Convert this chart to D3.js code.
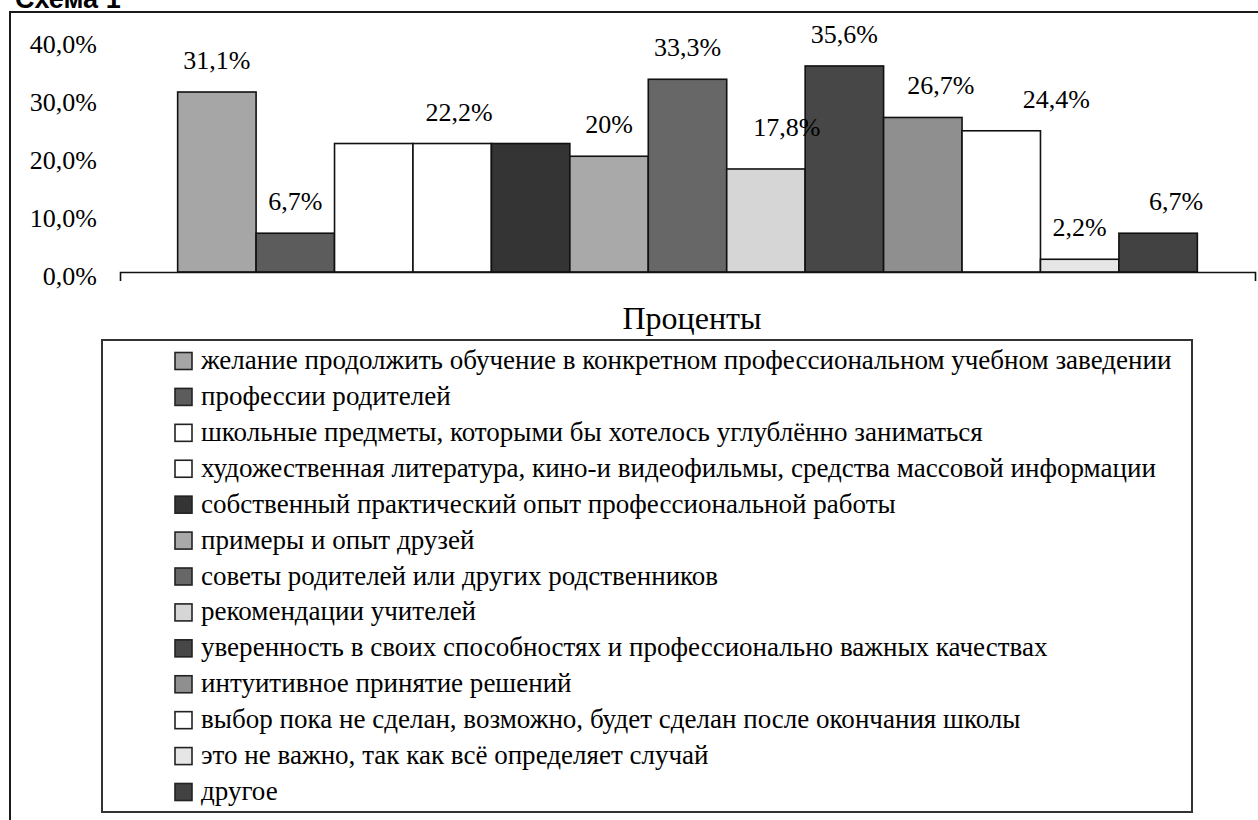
<!DOCTYPE html>
<html>
<head>
<meta charset="utf-8">
<script src="https://d3js.org/d3.v7.min.js"></script>
</head>
<body style="margin:0">
<div id="chart"></div>
<script>
// chart values
const categories = [
    "желание продолжить обучение в конкретном профессиональном учебном заведении",
    "профессии родителей",
    "школьные предметы, которыми бы хотелось углублённо заниматься",
    "художественная литература, кино-и видеофильмы, средства массовой информации",
    "собственный практический опыт профессиональной работы",
    "примеры и опыт друзей",
    "советы родителей или других родственников",
    "рекомендации учителей",
    "уверенность в своих способностях и профессионально важных качествах",
    "интуитивное принятие решений",
    "выбор пока не сделан, возможно, будет сделан после окончания школы",
    "это не важно, так как всё определяет случай",
    "другое"
];
const values = [31.1, 6.7, 22.2, 22.2, 22.2, 20, 33.3, 17.8, 35.6, 26.7, 24.4, 2.2, 6.7];
// only these labels are printed in the original (null = no label)
const valueLabels = ["31,1%", "6,7%", null, "22,2%", null, "20%", "33,3%", "17,8%", "35,6%", "26,7%", "24,4%", "2,2%", "6,7%"];
const yTicks = [0, 10, 20, 30, 40];
const yTickLabels = ["0,0%", "10,0%", "20,0%", "30,0%", "40,0%"];
const axisTitle = "Проценты";
const figureTitle = "Схема 1";

// look of the bars (greyscale print)
const fills = ["#a6a6a6", "#5c5c5c", "#ffffff", "#ffffff", "#343434", "#a9a9a9", "#676767",
               "#d6d6d6", "#474747", "#8f8f8f", "#ffffff", "#e6e6e6", "#424242"];
// small hand nudges of the value labels, as placed in the original
const labelNudgeX = [0, 0, 0, 7, 0, 0, 0, 21, 0, 18, 55, 0, 18];
const labelNudgeY = [0, 0, 0, 0, 0, 0, 0, -10, 0, 0, 0, 0, 0];

const SERIF = "'Times New Roman'";

let svg = d3.select("#chart").append("svg")
    .attr("width", 1258)
    .attr("height", 820);

let x = d3.scaleBand()
    .domain(d3.range(values.length))
    .range([120, 1255])
    .paddingInner(0)
    .paddingOuter(0.735);

let y = d3.scaleLinear()
    .domain([0, 40])
    .range([272, 40.5]);

let displayData = values.map((v, i) => ({i: i, value: v, label: valueLabels[i]}));

// outer frame of the figure
svg.append("path")
    .attr("d", "M10,820V12H1258")
    .attr("fill", "none")
    .attr("stroke", "#1a1a1a")
    .attr("stroke-width", 2);

// bars
svg.selectAll(".bar")
    .data(displayData)
    .enter().append("rect")
    .attr("class", "bar")
    .attr("x", d => x(d.i))
    .attr("y", d => y(d.value))
    .attr("width", x.bandwidth())
    .attr("height", d => y(0) - y(d.value))
    .attr("fill", d => fills[d.i])
    .attr("stroke", "#111")
    .attr("stroke-width", 1.6);

// baseline with the small outer ticks at both ends
svg.append("g")
    .attr("transform", "translate(0," + y(0) + ")")
    .call(d3.axisBottom(x).tickValues([]).tickSizeOuter(9))
    .select(".domain")
    .attr("stroke", "#111")
    .attr("stroke-width", 1.6);

// y tick labels, drawn from the scale (no axis line in the original)
svg.selectAll(".y-label")
    .data(yTicks)
    .enter().append("text")
    .attr("class", "y-label")
    .attr("x", 97)
    .attr("y", d => y(d) + 12.5)
    .attr("text-anchor", "end")
    .style("font-family", SERIF)
    .style("font-size", "26px")
    .text((d, i) => yTickLabels[i]);

svg.selectAll(".value-label")
    .data(displayData.filter(d => d.label !== null))
    .enter().append("text")
    .attr("class", "value-label")
    .attr("x", d => x(d.i) + x.bandwidth() / 2 + labelNudgeX[d.i])
    .attr("y", d => y(d.value) - 23 + labelNudgeY[d.i])
    .attr("text-anchor", "middle")
    .style("font-family", SERIF)
    .style("font-size", "26px")
    .text(d => d.label);

svg.append("text")
    .attr("x", 692)
    .attr("y", 329)
    .attr("text-anchor", "middle")
    .style("font-family", SERIF)
    .style("font-size", "32px")
    .text(axisTitle);

// legend
svg.append("rect")
    .attr("x", 102)
    .attr("y", 340)
    .attr("width", 1090)
    .attr("height", 472)
    .attr("fill", "none")
    .attr("stroke", "#333")
    .attr("stroke-width", 2);

let rowY = d3.scalePoint()
    .domain(d3.range(categories.length))
    .range([361, 792]);

svg.selectAll(".legend-swatch")
    .data(categories)
    .enter().append("rect")
    .attr("class", "legend-swatch")
    .attr("x", 175)
    .attr("y", (d, i) => rowY(i) - 8.5)
    .attr("width", 17)
    .attr("height", 17)
    .attr("fill", (d, i) => fills[i])
    .attr("stroke", "#222")
    .attr("stroke-width", 1.6);

let legendText = svg.selectAll(".legend-text")
    .data(categories)
    .enter().append("text")
    .attr("class", "legend-text")
    .attr("x", 201)
    .attr("y", (d, i) => rowY(i) + 8)
    .style("font-family", SERIF)
    .style("font-size", "26px")
    .text(d => d);

// the longest line runs to ~971px in the original, size the font from it
let w = legendText.node().getComputedTextLength();
if (w > 0) {
    legendText.style("font-size", Math.min(32, 26 * 971 / w).toFixed(2) + "px");
}

// figure caption, cut by the top edge as in the scan
svg.append("text")
    .attr("x", 15)
    .attr("y", 8)
    .style("font-family", "'Liberation Sans'")
    .style("font-weight", "bold")
    .style("font-size", "27px")
    .text(figureTitle);
</script>
</body>
</html>
